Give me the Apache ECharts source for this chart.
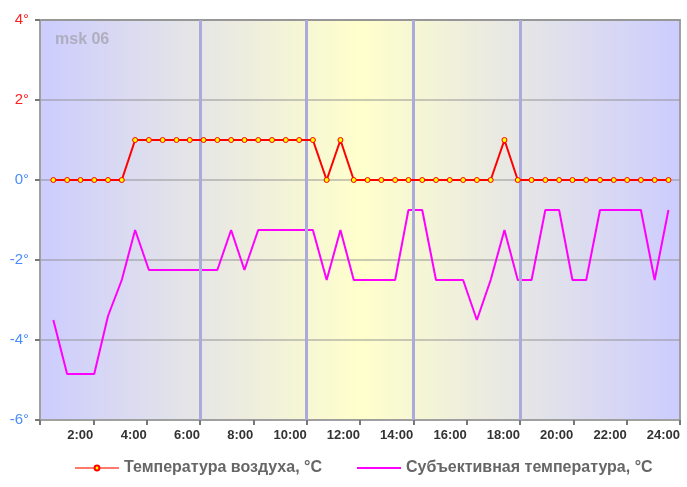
<!DOCTYPE html>
<html>
<head>
<meta charset="utf-8">
<script src="https://cdn.jsdelivr.net/npm/echarts@6/dist/echarts.min.js"></script>
<style>
html,body{margin:0;padding:0;background:#fff;}
#c{width:687px;height:487px;}
</style>
</head>
<body>
<div id="c"></div>
<script>
// Observation times (h:mm)
const times = ['0:30','1:01','1:31','2:02','2:33','3:04','3:34','4:05','4:36','5:07',
  '5:37','6:08','6:39','7:10','7:40','8:11','8:42','9:13','9:43','10:14',
  '10:45','11:16','11:46','12:17','12:48','13:19','13:49','14:20','14:51','15:22',
  '15:52','16:23','16:54','17:25','17:55','18:26','18:57','19:28','19:58','20:29',
  '21:00','21:31','22:01','22:32','23:03','23:34'];
// Air temperature, °C
const airTemp = [0,0,0,0,0,0,1,1,1,1,
  1,1,1,1,1,1,1,1,1,1,
  0,1,0,0,0,0,0,0,0,0,
  0,0,0,1,0,0,0,0,0,0,
  0,0,0,0,0,0];
// Subjective (feels-like) temperature, °C
const feelTemp = [-3.5,-4.85,-4.85,-4.85,-3.4,-2.5,-1.25,-2.25,-2.25,-2.25,
  -2.25,-2.25,-2.25,-1.25,-2.25,-1.25,-1.25,-1.25,-1.25,-1.25,
  -2.5,-1.25,-2.5,-2.5,-2.5,-2.5,-0.75,-0.75,-2.5,-2.5,
  -2.5,-3.5,-2.5,-1.25,-2.5,-2.5,-0.75,-0.75,-2.5,-2.5,
  -0.75,-0.75,-0.75,-0.75,-2.5,-0.75];
const seriesNames = ['Температура воздуха, °C', 'Субъективная температура, °C'];
const periodBounds = [6, 10, 14, 18];
const stationLabel = 'msk 06';

const toHours = s => { const p = s.split(':'); return +p[0] + (+p[1]) / 60; };
const hours = times.map(toHours);
const airData = hours.map((h, i) => [h, airTemp[i]]);
const feelData = hours.map((h, i) => [h, feelTemp[i]]);

const FONT = '"Liberation Sans", Arial, sans-serif';
const chart = echarts.init(document.getElementById('c'), null, {renderer: 'canvas'});
chart.setOption({
  animation: false,
  title: {
    text: stationLabel, left: 50, top: 27,
    textStyle: {color: '#aeaebe', fontSize: 16, fontWeight: 'bold', fontFamily: FONT}
  },
  legend: {
    bottom: 6, left: 69,
    itemWidth: 44, itemHeight: 6, itemGap: 34,
    textStyle: {color: '#666', fontSize: 16, fontWeight: 'bold', fontFamily: FONT},
    data: [
      {name: seriesNames[0], lineStyle: {color: '#ff7a6a'}},
      {name: seriesNames[1], itemStyle: {opacity: 0}}
    ]
  },
  grid: {
    left: 40, right: 7, top: 20, bottom: 67,
    show: true, borderColor: '#a0a0a0', borderWidth: 2,
    backgroundColor: {
      type: 'linear', x: 0, y: 0, x2: 1, y2: 0,
      colorStops: [
        {offset: 0, color: '#ccccff'},
        {offset: 0.25, color: '#e6e6e6'},
        {offset: 0.5, color: '#ffffcc'},
        {offset: 0.75, color: '#e6e6e6'},
        {offset: 1, color: '#ccccff'}
      ]
    }
  },
  xAxis: {
    type: 'value', min: 0, max: 24, interval: 2,
    axisLine: {show: true, onZero: false, lineStyle: {color: '#a0a0a0', width: 2}},
    axisTick: {show: true, length: 5, lineStyle: {color: '#777', width: 2}},
    splitLine: {show: false},
    axisLabel: {
      formatter: v => v === 0 ? '' : v + ':00',
      align: 'right', margin: 9,
      color: '#333', fontSize: 13, fontWeight: 'bold', fontFamily: FONT
    }
  },
  yAxis: {
    type: 'value', min: -6, max: 4, interval: 2,
    axisLine: {show: true, lineStyle: {color: '#a0a0a0', width: 2}},
    axisTick: {show: true, length: 5, lineStyle: {color: '#777', width: 2}},
    splitLine: {show: true, lineStyle: {color: 'rgba(140,140,140,0.45)', width: 2}},
    axisLabel: {
      formatter: v => v + '°', margin: 11,
      color: v => (+v > 0 ? '#ff2020' : '#4a8cff'),
      fontSize: 15, fontFamily: FONT
    }
  },
  series: [
    {
      name: seriesNames[0], type: 'line', data: airData, z: 5,
      symbol: 'circle', symbolSize: 5, showSymbol: true,
      lineStyle: {color: '#ff0000', width: 2},
      itemStyle: {color: '#ffff00', borderColor: '#ff0000', borderWidth: 1},
      markLine: {
        silent: true, symbol: 'none', label: {show: false},
        lineStyle: {color: '#aaaadd', width: 3, type: 'solid'},
        data: periodBounds.map(h => ({xAxis: h}))
      }
    },
    {
      name: seriesNames[1], type: 'line', data: feelData, z: 4,
      symbol: 'none', showSymbol: false,
      lineStyle: {color: '#ff00ff', width: 2},
      itemStyle: {color: '#ff00ff'}
    }
  ]
});
</script>
</body>
</html>
